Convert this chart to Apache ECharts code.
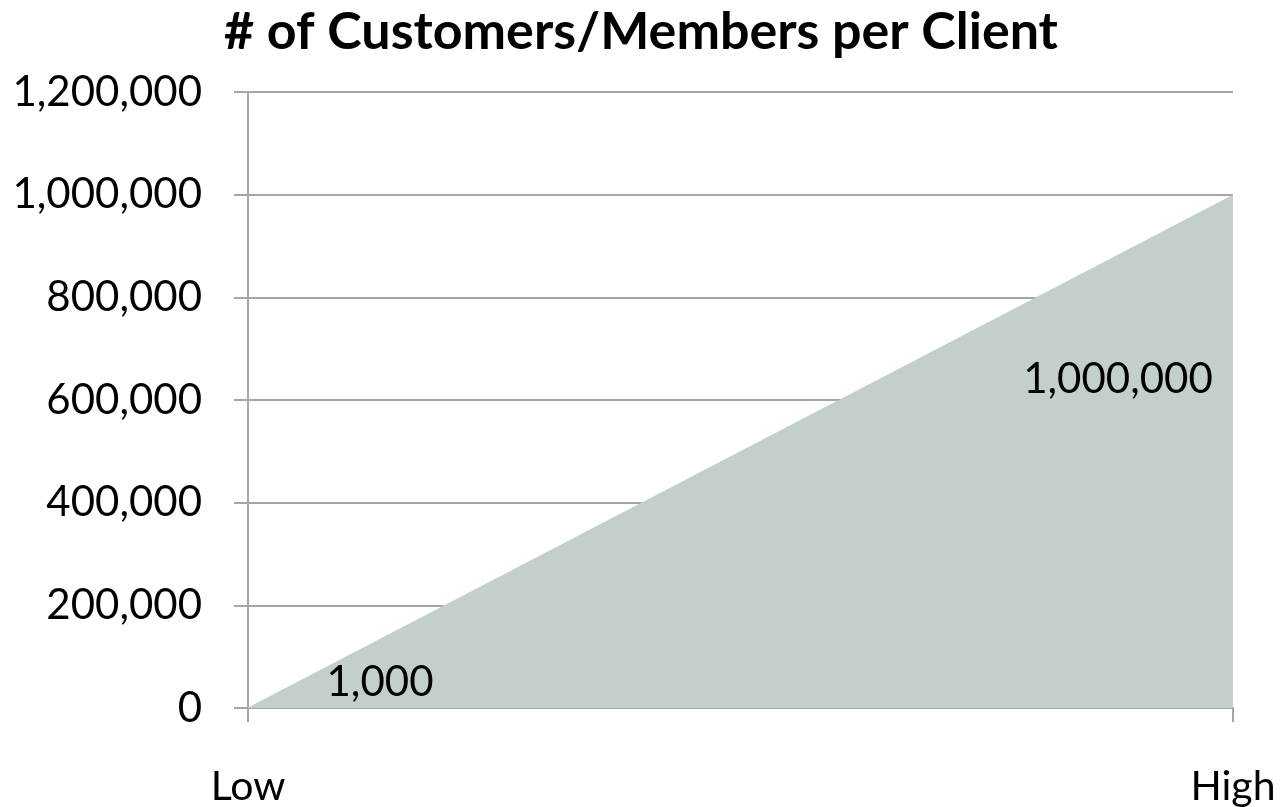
<!DOCTYPE html>
<html>
<head>
<meta charset="utf-8">
<script src="https://cdn.jsdelivr.net/npm/echarts@6/dist/echarts.min.js"></script>
<style>
html,body{margin:0;padding:0;background:#fff;}
#chart{width:1282px;height:807px;}
</style>
</head>
<body>
<div id="chart"></div>
<script>
const categories = ['Low', 'High'];
const customers = [1000, 1000000];
const yTicks = { min: 0, max: 1200000, interval: 200000 };

const FONT = 'Lato';
const labelOffsets = [[132, -25], [-115, 185]];

const chart = echarts.init(document.getElementById('chart'), null, { renderer: 'canvas' });
chart.setOption({
  backgroundColor: '#ffffff',
  animation: false,
  title: {
    text: '# of Customers/Members per Client',
    left: 'center',
    top: 1,
    textStyle: { fontFamily: FONT, fontWeight: 'bold', fontSize: 52, color: '#000' }
  },
  grid: { left: 248, right: 49, top: 92, bottom: 99 },
  xAxis: {
    type: 'category',
    data: categories,
    boundaryGap: false,
    axisLine: { lineStyle: { color: '#a6a6a6', width: 2 } },
    axisTick: { show: true, length: 14, lineStyle: { color: '#a6a6a6', width: 2 } },
    axisLabel: { margin: 58, fontFamily: FONT, fontSize: 41, color: '#000' },
    splitLine: { show: false }
  },
  yAxis: {
    type: 'value',
    min: yTicks.min, max: yTicks.max, interval: yTicks.interval,
    axisLine: { show: true, lineStyle: { color: '#a6a6a6', width: 2 } },
    axisTick: { show: true, length: 14, lineStyle: { color: '#a6a6a6', width: 2 } },
    axisLabel: {
      margin: 46, fontFamily: FONT, fontSize: 42, color: '#000',
      formatter: v => v.toLocaleString('en-US')
    },
    splitLine: { show: true, lineStyle: { color: '#a6a6a6', width: 2 } }
  },
  series: [{
    type: 'line',
    data: customers.map((v, i) => ({
      value: v,
      label: { offset: labelOffsets[i] }
    })),
    symbol: 'circle',
    symbolSize: 1,
    showSymbol: true,
    itemStyle: { color: 'rgba(0,0,0,0)' },
    lineStyle: { width: 0 },
    areaStyle: { color: '#c2cfce', opacity: 1 },
    label: {
      show: true,
      position: 'inside',
      fontFamily: FONT,
      fontSize: 42,
      color: '#000',
      formatter: p => p.value.toLocaleString('en-US')
    }
  }]
});
</script>
</body>
</html>
